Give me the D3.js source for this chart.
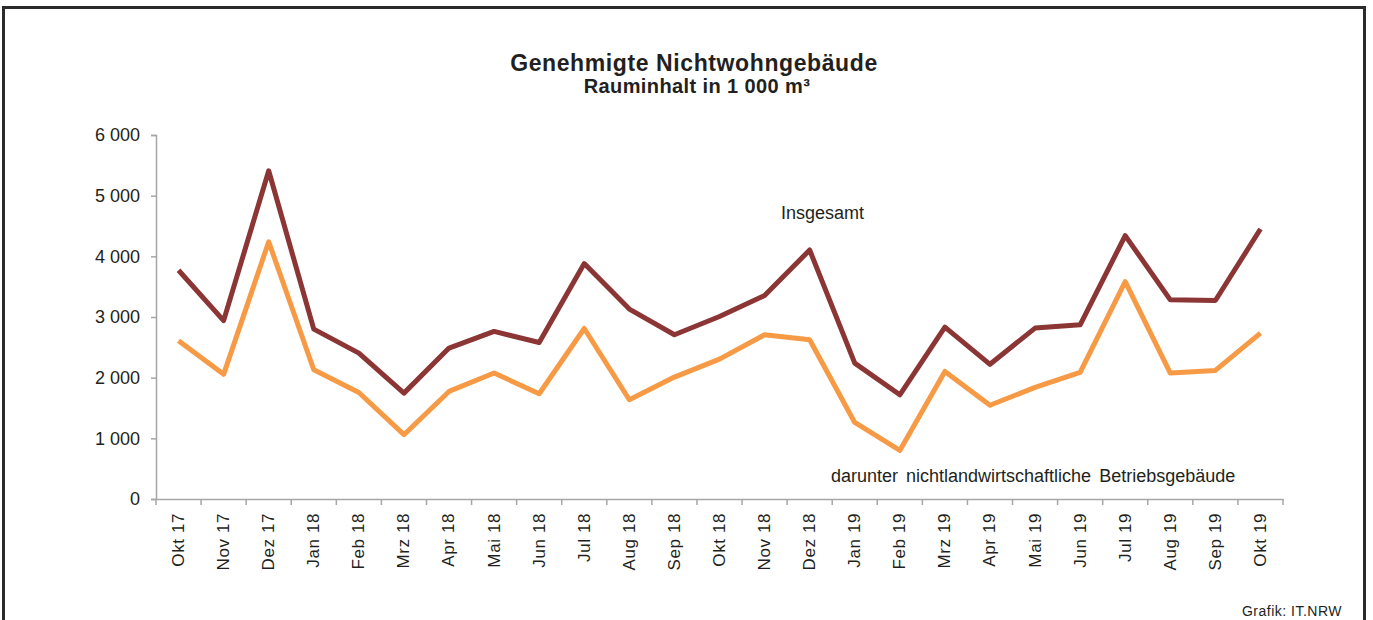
<!DOCTYPE html>
<html>
<head>
<meta charset="utf-8">
<script src="https://cdn.jsdelivr.net/npm/d3@7"></script>
<style>
  body { margin: 0; background: #fff; }
  svg { display: block; font-family: "Liberation Sans", Arial, sans-serif; }
</style>
</head>
<body>
<div id="plot"></div>
<script>
// months on the x axis
const months = ["Okt 17","Nov 17","Dez 17","Jan 18","Feb 18","Mrz 18","Apr 18","Mai 18","Jun 18",
  "Jul 18","Aug 18","Sep 18","Okt 18","Nov 18","Dez 18","Jan 19","Feb 19","Mrz 19","Apr 19",
  "Mai 19","Jun 19","Jul 19","Aug 19","Sep 19","Okt 19"];

// Rauminhalt in 1 000 m3
const insgesamt = [3770, 2940, 5410, 2800, 2405, 1745, 2488, 2762, 2580, 3880, 3130, 2707, 3008,
  3354, 4104, 2240, 1718, 2833, 2220, 2817, 2871, 4341, 3283, 3272, 4450];
const darunter = [2608, 2055, 4240, 2130, 1756, 1060, 1773, 2076, 1735, 2811, 1636, 2010, 2306,
  2707, 2624, 1262, 800, 2102, 1545, 1839, 2086, 3583, 2076, 2119, 2735];

const yTicks = [0, 1000, 2000, 3000, 4000, 5000, 6000];

const width = 1373, height = 620;
const textColor = "#231f20";
const axisColor = "#a6a6a6";

const svg = d3.select("#plot").append("svg")
    .attr("width", width)
    .attr("height", height);

// outer frame
svg.append("rect")
    .attr("x", 3.5).attr("y", 7.5)
    .attr("width", 1361).attr("height", 640)
    .attr("fill", "none")
    .attr("stroke", "#2b2b2b")
    .attr("stroke-width", 3);

// title
svg.append("text")
    .attr("x", 694).attr("y", 71)
    .attr("text-anchor", "middle")
    .attr("font-size", 23).attr("font-weight", "bold")
    .attr("letter-spacing", 0.6)
    .attr("fill", textColor)
    .text("Genehmigte Nichtwohngebäude");

svg.append("text")
    .attr("x", 697).attr("y", 93)
    .attr("text-anchor", "middle")
    .attr("font-size", 20).attr("font-weight", "bold")
    .attr("letter-spacing", 0.4)
    .attr("fill", textColor)
    .text("Rauminhalt in 1 000 m³");

const x = d3.scaleBand()
    .domain(months)
    .range([156, 1283])
    .padding(0);

const y = d3.scaleLinear()
    .domain([0, 6000])
    .range([499, 135]);

const fmt = d3.formatLocale({ decimal: ",", thousands: " ", grouping: [3], currency: ["", " €"] }).format(",d");

// y axis
const yAxis = svg.append("g")
    .attr("transform", "translate(156,0)")
    .call(d3.axisLeft(y).tickValues(yTicks).tickFormat(fmt).tickSize(5).tickPadding(11));
yAxis.select(".domain").attr("stroke", axisColor).attr("stroke-width", 1.5);
yAxis.selectAll(".tick line").attr("stroke", axisColor).attr("stroke-width", 1.5);
yAxis.selectAll(".tick text")
    .attr("font-size", 18)
    .attr("fill", textColor)
    .attr("font-family", "Liberation Sans, Arial, sans-serif");

// x axis: labels at category centres, ticks between categories
const xAxis = svg.append("g")
    .attr("transform", `translate(0,${y(0)})`)
    .call(d3.axisBottom(x).tickSize(0).tickSizeOuter(0).tickPadding(0));
xAxis.select(".domain").attr("stroke", axisColor).attr("stroke-width", 1.5);
xAxis.selectAll(".tick text")
    .attr("font-size", 17)
    .attr("letter-spacing", 0.6)
    .attr("fill", textColor)
    .attr("font-family", "Liberation Sans, Arial, sans-serif")
    .attr("text-anchor", "end")
    .attr("transform", "rotate(-90)")
    .attr("x", -14)
    .attr("y", 0)
    .attr("dy", "0.32em");

const step = x.step();
const boundaries = d3.range(months.length + 1).map(i => x.range()[0] + i * step);
xAxis.selectAll(".cat-tick")
    .data(boundaries)
    .enter()
    .append("line")
    .attr("class", "cat-tick")
    .attr("x1", d => d).attr("x2", d => d)
    .attr("y1", 0).attr("y2", 6)
    .attr("stroke", axisColor)
    .attr("stroke-width", 1.5);

// lines
const line = d3.line()
    .x((d, i) => x(months[i]) + x.bandwidth() / 2)
    .y(d => y(d));

svg.append("path")
    .datum(darunter)
    .attr("d", line)
    .attr("fill", "none")
    .attr("stroke", "#f79a46")
    .attr("stroke-width", 5)
    .attr("stroke-linejoin", "round");

svg.append("path")
    .datum(insgesamt)
    .attr("d", line)
    .attr("fill", "none")
    .attr("stroke", "#8b3535")
    .attr("stroke-width", 5)
    .attr("stroke-linejoin", "round");

// series labels
svg.append("text")
    .attr("x", 781).attr("y", 219)
    .attr("font-size", 18)
    .attr("fill", textColor)
    .text("Insgesamt");

svg.append("text")
    .attr("x", 831).attr("y", 482)
    .attr("font-size", 18)
    .attr("word-spacing", 3)
    .attr("fill", textColor)
    .text("darunter nichtlandwirtschaftliche Betriebsgebäude");

// source
svg.append("text")
    .attr("x", 1342).attr("y", 616)
    .attr("text-anchor", "end")
    .attr("font-size", 14)
    .attr("letter-spacing", 0.5)
    .attr("fill", textColor)
    .text("Grafik: IT.NRW");
</script>
</body>
</html>
